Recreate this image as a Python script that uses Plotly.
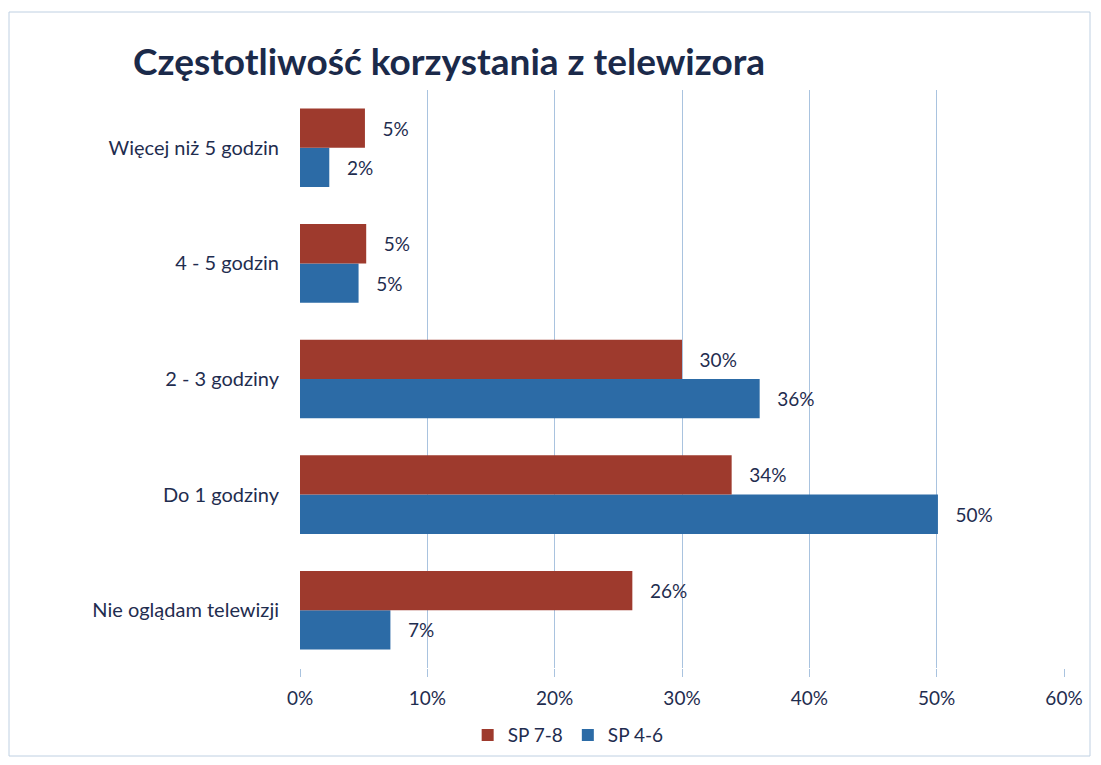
import plotly.graph_objects as go

categories = ["Nie oglądam telewizji", "Do 1 godziny", "2 - 3 godziny", "4 - 5 godzin", "Więcej niż 5 godzin"]
sp_78 = [26.1, 33.9, 30.0, 5.2, 5.1]
sp_46 = [7.1, 50.1, 36.1, 4.6, 2.3]
labels_78 = ["26%", "34%", "30%", "5%", "5%"]
labels_46 = ["7%", "50%", "36%", "5%", "2%"]
x_ticks = [0, 10, 20, 30, 40, 50, 60]

font_family = "Lato, 'Open Sans', sans-serif"
text_col = "#1f2d4f"
pad = "\u00a0\u00a0\u00a0"

# page body has an 8px margin, so the figure is sized to fit inside it
W, H = 1085, 749
L, T = 292, 82
PW, PH = 764, 578

fig = go.Figure()
# first trace sits lower in each group for horizontal bars
fig.add_trace(go.Bar(
    y=categories, x=sp_46, name="SP 4-6", orientation="h",
    marker=dict(color="#2c6ba6", line=dict(width=0)),
    text=[pad + t for t in labels_46], textposition="outside", cliponaxis=False,
    textfont=dict(size=19, color=text_col), legendrank=2,
))
fig.add_trace(go.Bar(
    y=categories, x=sp_78, name="SP 7-8", orientation="h",
    marker=dict(color="#9e3a2d", line=dict(width=0)),
    text=[pad + t for t in labels_78], textposition="outside", cliponaxis=False,
    textfont=dict(size=19, color=text_col), legendrank=1,
))

fig.update_layout(
    width=W, height=H,
    barmode="group", bargap=0.32, bargroupgap=0,
    paper_bgcolor="white", plot_bgcolor="white",
    font=dict(family=font_family, size=19, color=text_col),
    margin=dict(l=L, r=W - L - PW, t=T, b=H - T - PH, autoexpand=False),
    title=dict(
        text="<b>Częstotliwość korzystania z telewizora</b>",
        font=dict(size=37, color="#1b2a4a"),
        x=125 / W, xanchor="left", xref="container",
        y=1 - 54 / H, yanchor="middle", yref="container",
    ),
    legend=dict(
        orientation="h", x=0.351, xanchor="center", y=-0.116, yanchor="middle",
        font=dict(size=19), itemwidth=30, traceorder="normal",
    ),
    showlegend=True,
    shapes=[dict(
        type="rect", xref="paper", yref="paper",
        x0=(1 - L) / PW, x1=(1082 - L) / PW, y0=-(H - T - PH - 1) / PH, y1=(PH + T - 4) / PH,
        line=dict(color="#bfd0e2", width=1), layer="below",
    )],
)
fig.update_xaxes(
    range=[0, 60], tickvals=x_ticks, ticktext=[f"{v}%" for v in x_ticks],
    showgrid=True, gridcolor="#a9c3df", gridwidth=1,
    zeroline=False, showline=False, automargin=False,
    ticks="outside", ticklen=8, tickcolor="#a9c3df", ticklabelstandoff=5,
    tickfont=dict(size=19, color=text_col),
)
fig.update_yaxes(
    categoryorder="array", categoryarray=categories,
    showgrid=False, zeroline=False, showline=False, automargin=False,
    ticks="", ticklabelstandoff=20,
    tickfont=dict(size=20, color=text_col),
)

fig.write_html("out.html")
